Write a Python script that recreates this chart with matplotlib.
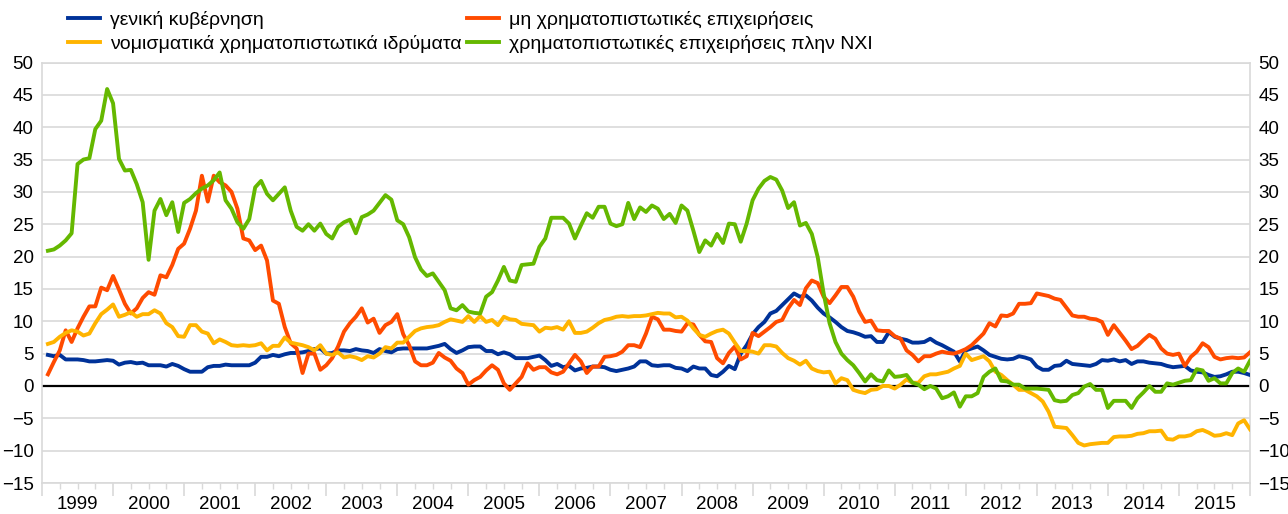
import numpy as np
import matplotlib.pyplot as plt

plt.rcParams['font.family'] = ['Liberation Sans', 'DejaVu Sans']

# monthly values, Jan 1999 - Dec 2015 (12 per row)
gen_gov = [
    4.8, 4.6, 4.8, 4.1, 4.1, 4.1, 4.0, 3.8, 3.8, 3.9, 4.0, 3.9,
    3.3, 3.6, 3.7, 3.5, 3.6, 3.2, 3.2, 3.2, 3.0, 3.4, 3.1, 2.6,
    2.2, 2.2, 2.2, 2.9, 3.1, 3.1, 3.3, 3.2, 3.2, 3.2, 3.2, 3.6,
    4.5, 4.5, 4.8, 4.6, 4.9, 5.1, 5.1, 5.2, 5.4, 5.7, 5.8, 5.0,
    5.1, 5.5, 5.5, 5.4, 5.7, 5.5, 5.4, 5.1, 5.7, 5.4, 5.2, 5.7,
    5.8, 5.8, 5.8, 5.8, 5.8, 6.0, 6.2, 6.5, 5.7, 5.1, 5.5, 6.0,
    6.1, 6.1, 5.4, 5.4, 4.9, 5.2, 4.9, 4.3, 4.3, 4.3, 4.5, 4.7,
    4.0, 3.1, 3.4, 2.9, 3.1, 2.4, 2.7, 2.8, 3.0, 3.0, 2.9, 2.5,
    2.3, 2.5, 2.7, 3.0, 3.8, 3.8, 3.2, 3.1, 3.2, 3.2, 2.8, 2.7,
    2.3, 3.0, 2.7, 2.7, 1.7, 1.5, 2.2, 3.1, 2.6, 5.0, 6.3, 8.0,
    9.1, 9.9, 11.2, 11.6, 12.5, 13.4, 14.3, 13.8, 14.0, 13.2, 12.1, 11.2,
    10.6, 9.9, 9.1, 8.5, 8.3, 8.0, 7.6, 7.7, 6.8, 6.8, 8.3, 7.6,
    7.3, 7.1, 6.7, 6.7, 6.8, 7.3, 6.7, 6.3, 5.8, 5.3, 3.8, 5.5,
    5.8, 6.1, 5.5, 4.8, 4.5, 4.2, 4.1, 4.2, 4.6, 4.4, 4.1, 3.0,
    2.5, 2.5, 3.1, 3.2, 3.9, 3.4, 3.3, 3.2, 3.1, 3.4, 4.0, 3.9,
    4.1, 3.8, 4.0, 3.4, 3.8, 3.8, 3.6, 3.5, 3.4, 3.1, 2.9, 3.0,
    3.1, 2.4, 2.2, 2.1, 1.7, 1.4, 1.5, 1.8, 2.2, 2.2, 2.0, 1.7,
]

nfc = [
    1.8, 3.7, 5.5, 8.6, 6.8, 8.9, 10.7, 12.3, 12.3, 15.2, 14.8, 17.0,
    14.9, 12.7, 11.2, 12.0, 13.6, 14.5, 14.1, 17.1, 16.8, 18.7, 21.2, 22.0,
    24.3, 27.1, 32.5, 28.5, 32.5, 31.5, 31.0, 30.0, 27.4, 22.8, 22.5, 21.0,
    21.7, 19.4, 13.2, 12.7, 9.1, 6.6, 5.8, 2.0, 5.0, 5.0, 2.5, 3.2,
    4.3, 6.1, 8.4, 9.7, 10.7, 12.0, 9.8, 10.4, 8.2, 9.4, 9.9, 11.1,
    8.0, 6.3, 3.8, 3.2, 3.2, 3.6, 5.1, 4.4, 3.9, 2.7, 2.0, 0.2,
    0.9, 1.4, 2.4, 3.2, 2.5, 0.4, -0.6, 0.4, 1.4, 3.5, 2.5, 2.9,
    2.9, 2.1, 1.8, 2.2, 3.5, 4.8, 3.8, 2.0, 3.0, 3.0, 4.5, 4.6,
    4.8, 5.3, 6.3, 6.3, 6.0, 8.1, 10.7, 10.3, 8.7, 8.7, 8.5, 8.4,
    9.7, 9.5, 7.9, 6.9, 6.8, 4.3, 3.5, 5.1, 6.1, 4.1, 4.6, 8.2,
    7.7, 8.4, 9.1, 9.9, 10.2, 12.0, 13.3, 12.5, 15.1, 16.3, 15.9, 13.8,
    12.8, 14.0, 15.3, 15.3, 13.8, 11.5, 9.9, 10.1, 8.6, 8.5, 8.5, 7.7,
    7.3, 5.5, 4.8, 3.8, 4.6, 4.6, 5.0, 5.3, 5.1, 5.0, 5.3, 5.7,
    6.3, 7.2, 8.1, 9.7, 9.2, 10.9, 10.8, 11.2, 12.7, 12.7, 12.8, 14.3,
    14.1, 13.9, 13.5, 13.3, 12.1, 10.9, 10.7, 10.7, 10.4, 10.3, 9.9, 7.9,
    9.4, 8.2, 7.0, 5.7, 6.2, 7.1, 7.9, 7.3, 5.8, 5.0, 4.8, 5.0,
    3.1, 4.5, 5.3, 6.6, 6.0, 4.5, 4.1, 4.3, 4.4, 4.3, 4.4, 5.2,
]

mfi = [
    6.5, 6.8, 7.6, 8.2, 8.6, 8.4, 7.8, 8.1, 9.7, 11.1, 11.8, 12.6,
    10.7, 11.0, 11.4, 10.7, 11.1, 11.1, 11.7, 11.2, 9.7, 9.1, 7.7, 7.6,
    9.4, 9.4, 8.4, 8.1, 6.6, 7.2, 6.8, 6.3, 6.2, 6.3, 6.2, 6.3,
    6.6, 5.5, 6.2, 6.2, 7.5, 6.7, 6.5, 6.3, 6.0, 5.5, 6.3, 5.0,
    4.8, 5.2, 4.4, 4.6, 4.4, 4.0, 4.6, 4.4, 5.0, 6.0, 5.8, 6.7,
    6.7, 7.6, 8.5, 8.9, 9.1, 9.2, 9.4, 9.9, 10.3, 10.1, 9.9, 10.8,
    9.9, 10.8, 9.9, 10.2, 9.4, 10.7, 10.3, 10.2, 9.6, 9.5, 9.4, 8.4,
    9.0, 8.9, 9.1, 8.7, 10.0, 8.2, 8.2, 8.4, 9.0, 9.7, 10.2, 10.4,
    10.7, 10.8, 10.7, 10.8, 10.8, 10.9, 11.1, 11.3, 11.2, 11.2, 10.6, 10.7,
    10.1, 8.9, 7.9, 7.6, 8.1, 8.5, 8.7, 8.1, 6.7, 5.4, 5.4, 5.3,
    5.0, 6.3, 6.3, 6.1, 5.1, 4.3, 3.9, 3.3, 3.9, 2.7, 2.3, 2.1,
    2.2, 0.4, 1.2, 0.9, -0.6, -0.9, -1.1, -0.6, -0.5, 0.0, 0.0, -0.4,
    0.2, 1.0, 0.5, 0.5, 1.5, 1.8, 1.8, 2.0, 2.2, 2.7, 3.1, 5.0,
    4.0, 4.3, 4.6, 3.8, 2.2, 1.7, 0.9, 0.2, -0.6, -0.6, -1.1, -1.6,
    -2.4, -4.0, -6.3, -6.4, -6.5, -7.6, -8.8, -9.2, -9.0, -8.9, -8.8, -8.8,
    -7.9, -7.8, -7.8, -7.7, -7.4, -7.3, -7.0, -7.0, -6.9, -8.2, -8.3, -7.8,
    -7.8, -7.6, -7.0, -6.8, -7.2, -7.7, -7.6, -7.3, -7.6, -5.8, -5.3, -6.7,
]

ofi = [
    20.9, 21.1, 21.7, 22.5, 23.6, 34.3, 35.0, 35.2, 39.7, 41.0, 45.9, 43.7,
    35.1, 33.3, 33.4, 31.2, 28.4, 19.5, 27.1, 28.9, 26.4, 28.4, 23.8, 28.3,
    28.9, 29.8, 30.5, 31.0, 31.8, 33.0, 28.7, 27.4, 25.3, 24.3, 25.8, 30.7,
    31.7, 29.7, 28.7, 29.7, 30.7, 27.1, 24.6, 24.0, 25.0, 24.0, 25.1, 23.5,
    22.8, 24.6, 25.3, 25.7, 23.6, 26.1, 26.5, 27.1, 28.3, 29.5, 28.8, 25.6,
    25.0, 23.0, 19.9, 18.0, 17.0, 17.4, 16.1, 14.8, 12.0, 11.7, 12.5, 11.5,
    11.3, 11.2, 13.8, 14.5, 16.3, 18.4, 16.3, 16.1, 18.7, 18.8, 18.9, 21.5,
    22.8, 26.0, 26.0, 26.0, 25.1, 22.8, 24.8, 26.7, 26.0, 27.7, 27.7, 25.1,
    24.7, 25.0, 28.3, 25.8, 27.6, 26.9, 27.9, 27.4, 25.8, 26.6, 25.2, 27.9,
    27.1, 24.0, 20.7, 22.5, 21.7, 23.5, 22.1, 25.1, 25.0, 22.3, 25.1, 28.7,
    30.5, 31.7, 32.3, 31.9, 30.2, 27.5, 28.4, 24.8, 25.2, 23.5, 19.9, 14.3,
    9.7, 6.8, 5.0, 4.0, 3.2, 2.0, 0.7, 1.8, 0.9, 0.7, 2.4, 1.4,
    1.5, 1.7, 0.5, 0.2, -0.5, 0.0, -0.4, -1.9, -1.6, -1.0, -3.2, -1.6,
    -1.6, -1.1, 1.4, 2.2, 2.7, 0.8, 0.7, 0.2, 0.2, -0.4, -0.4, -0.4,
    -0.5, -0.6, -2.2, -2.4, -2.3, -1.4, -1.1, -0.1, 0.3, -0.6, -0.6, -3.4,
    -2.3, -2.3, -2.3, -3.4, -1.9, -1.0, 0.0, -0.9, -0.9, 0.4, 0.2, 0.5,
    0.8, 0.9, 2.6, 2.4, 0.8, 1.2, 0.4, 0.4, 2.0, 2.7, 2.2, 3.9,
]

labels = ['γενική κυβέρνηση',
          'νομισματικά χρηματοπιστωτικά ιδρύματα',
          'μη χρηματοπιστωτικές επιχειρήσεις',
          'χρηματοπιστωτικές επιχειρήσεις πλην NXI']
years = list(range(1999, 2016))

blue, yellow, orange, green = '#003299', '#FFB400', '#FF4B00', '#65B800'

# points sit at the end of each month
t = 1999 + (np.arange(len(gen_gov)) + 1) / 12

fig = plt.figure(figsize=(12.88, 5.14), dpi=100)
ax = fig.add_axes([42/1288, 1 - 483/514, 1208/1288, 420.5/514])

lw = 2.8
l1, = ax.plot(t, gen_gov, color=blue, lw=lw, zorder=3)
l3, = ax.plot(t, nfc, color=orange, lw=lw, zorder=4)
l2, = ax.plot(t, mfi, color=yellow, lw=lw, zorder=5)
l4, = ax.plot(t, ofi, color=green, lw=lw, zorder=6)
ax.axhline(0, color='black', lw=1.6, zorder=2)

ax.set_xlim(1999, 2016)
ax.set_ylim(-15, 50)
ax.set_yticks(range(-15, 51, 5))
ax.grid(axis='y', color='#d9d9d9', lw=1.2, zorder=0)
ax.tick_params(axis='y', length=0, labelsize=13.5, labelleft=True,
               labelright=True, pad=6)

# year boundaries as ticks, quarters as minor ticks, labels in the middle
ax.set_xticks(range(1999, 2017))
ax.set_xticks(np.arange(1999, 2016, 0.25), minor=True)
ax.set_xticklabels([])
ax.tick_params(axis='x', which='major', length=9, color='#d9d9d9', width=1.2)
ax.tick_params(axis='x', which='minor', length=4, color='#d9d9d9', width=1.0)
for y in years:
    ax.text(y + 0.5, -0.03, str(y), transform=ax.get_xaxis_transform(),
            ha='center', va='top', fontsize=13.5)

for s in ax.spines.values():
    s.set_color('#d9d9d9')
    s.set_linewidth(1.2)

fig.legend([l1, l2, l3, l4], labels, ncol=2, loc='upper left',
           bbox_to_anchor=(68/1288, 1 - 11/514), frameon=False, fontsize=14,
           handlelength=1.65, handletextpad=0.5, columnspacing=0.3,
           labelspacing=0.3, borderpad=0, borderaxespad=0)

fig.savefig('out.png', dpi=100)
